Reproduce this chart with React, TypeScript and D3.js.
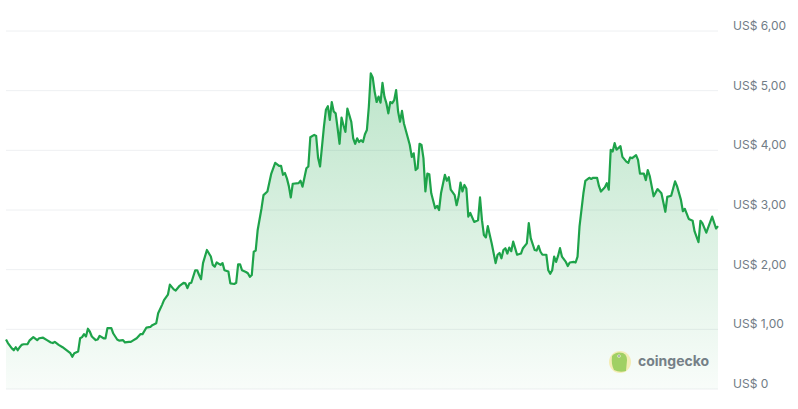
import React from "react";
import * as d3 from "d3";

const days = [0,1,3,4,5,6,7,8,9,11,12,14,16,17,19,21,23,24,25,27,29,31,33,34,35,37,38,39,40,41,42,43,44,46,47,48,50,51,52,54,55,57,58,60,61,63,64,65,67,69,70,72,74,75,77,78,80,81,83,84,86,87,89,91,92,93,94,95,97,98,99,100,101,103,105,106,107,108,110,111,112,114,115,117,118,119,120,121,123,124,125,126,127,128,129,131,132,134,136,138,140,141,142,143,144,145,146,147,150,151,152,154,155,156,158,159,160,161,163,164,165,166,167,168,169,170,171,172,173,174,175,176,177,178,179,180,181,182,183,184,185,186,187,188,189,190,191,192,193,194,195,196,197,198,199,200,201,202,203,204,206,207,208,209,210,211,212,213,214,215,216,217,218,220,221,222,223,225,226,227,228,230,231,232,233,234,235,236,237,238,240,242,243,244,245,246,247,248,249,251,252,253,254,255,256,257,258,259,260,261,262,264,265,267,268,269,271,272,273,274,275,277,278,279,280,281,282,283,284,285,287,288,289,291,292,293,294,296,297,299,300,301,303,304,305,307,308,309,310,311,312,313,315,316,318,319,320,321,323,324,325,327,328,329,330,332,334,336,338,339,341,343,344,346,347,348,350,352,353,355,356,357,359,362,364,365];

const prices = [0.83,0.77,0.68,0.65,0.70,0.65,0.70,0.74,0.75,0.75,0.81,0.87,0.82,0.85,0.86,0.82,0.78,0.77,0.79,0.74,0.70,0.65,0.60,0.54,0.60,0.63,0.85,0.87,0.92,0.88,1.01,0.96,0.88,0.82,0.83,0.89,0.85,0.85,1.02,1.02,0.93,0.83,0.81,0.82,0.78,0.79,0.79,0.81,0.85,0.92,0.92,1.03,1.04,1.07,1.10,1.27,1.41,1.49,1.58,1.75,1.67,1.65,1.73,1.78,1.77,1.69,1.77,1.78,1.99,1.99,1.91,1.84,2.11,2.33,2.22,2.08,2.05,2.12,2.08,2.11,1.99,1.97,1.77,1.76,1.78,2.09,2.09,1.99,1.96,1.94,1.88,1.91,2.30,2.32,2.66,3.03,3.25,3.31,3.61,3.79,3.74,3.74,3.59,3.62,3.53,3.40,3.21,3.44,3.45,3.49,3.39,3.70,3.73,4.22,4.26,4.24,3.87,3.73,4.40,4.68,4.74,4.51,4.81,4.65,4.62,4.37,4.11,4.55,4.42,4.31,4.70,4.59,4.48,4.20,4.11,4.20,4.14,4.17,4.14,4.27,4.34,4.73,5.29,5.22,4.98,4.81,4.90,4.80,5.13,4.90,4.79,4.62,4.81,4.79,4.84,5.01,4.65,4.48,4.66,4.45,4.21,4.09,3.89,3.95,3.67,3.70,4.11,4.09,3.87,3.31,3.61,3.60,3.28,3.03,3.07,3.00,3.28,3.59,3.49,3.55,3.34,3.25,3.08,3.22,3.46,3.31,3.42,3.36,2.89,2.95,2.80,2.83,3.21,2.83,2.58,2.54,2.73,2.58,2.44,2.11,2.25,2.28,2.19,2.33,2.36,2.27,2.37,2.31,2.47,2.36,2.25,2.27,2.36,2.44,2.78,2.53,2.33,2.32,2.40,2.30,2.25,2.25,1.99,1.93,1.99,2.22,2.13,2.23,2.36,2.22,2.13,2.06,2.12,2.13,2.12,2.22,2.72,3.28,3.49,3.54,3.52,3.54,3.54,3.40,3.31,3.38,3.45,3.34,4.01,3.98,4.12,4.01,4.07,3.89,3.81,3.79,3.88,3.87,3.92,3.84,3.61,3.61,3.50,3.67,3.57,3.23,3.35,3.28,2.97,3.22,3.24,3.48,3.40,3.17,2.98,3.02,2.85,2.82,2.64,2.46,2.82,2.78,2.62,2.89,2.69,2.73];

const yTicks = [0, 1, 2, 3, 4, 5, 6];
const yTickLabels = ["US$ 0", "US$ 1,00", "US$ 2,00", "US$ 3,00", "US$ 4,00", "US$ 5,00", "US$ 6,00"];

const W = 798;
const H = 409;

export default function App() {
  const x = d3.scaleLinear().domain([0, 365]).range([6, 718]);
  const y = d3.scaleLinear().domain([0, 6]).range([389, 31]);
  const data = days.map((d, i) => ({ d, p: prices[i] }));
  const line = d3
    .line<{ d: number; p: number }>()
    .x((v) => x(v.d))
    .y((v) => y(v.p));
  const area = d3
    .area<{ d: number; p: number }>()
    .x((v) => x(v.d))
    .y0(y(0))
    .y1((v) => y(v.p));

  return (
    <svg
      width={W}
      height={H}
      style={{ position: "absolute", left: 0, top: 0, background: "#fff" }}
      fontFamily="Inter, 'Noto Sans', sans-serif"
    >
      <defs>
        <linearGradient id="fillg" gradientUnits="userSpaceOnUse" x1="0" y1={y(5.3)} x2="0" y2={y(0)}>
          <stop offset="0" stopColor="#22a84e" stopOpacity={0.3} />
          <stop offset="1" stopColor="#22a84e" stopOpacity={0.03} />
        </linearGradient>
      </defs>
      {yTicks.map((t) => (
        <line key={t} x1={6} x2={718} y1={y(t)} y2={y(t)} stroke="#eef0f2" strokeWidth={1} />
      ))}
      <path d={area(data) || ""} fill="url(#fillg)" />
      <path d={line(data) || ""} fill="none" stroke="#1ea34a" strokeWidth={2.2} strokeLinejoin="round" />
      {yTicks.map((t, i) => (
        <text key={t} x={733} y={y(t) - 1} fontSize={12} fill="#717c86">
          {yTickLabels[i]}
        </text>
      ))}
      <g opacity={0.8}>
        <circle cx={620} cy={362} r={11} fill="#f4eaa6" />
        <path
          d="M612,356 Q616,351 623,353 Q627,355 627,360 L626,371 Q620,373 614,370 Q611,364 612,356 Z"
          fill="#8cc63f"
        />
        <circle cx={619} cy={356} r={1.6} fill="#fff" />
        <circle cx={619} cy={356} r={0.8} fill="#333" />
        <text x={638} y={366} fontSize={14} fontWeight={700} fill="#56626c">
          coingecko
        </text>
      </g>
    </svg>
  );
}
